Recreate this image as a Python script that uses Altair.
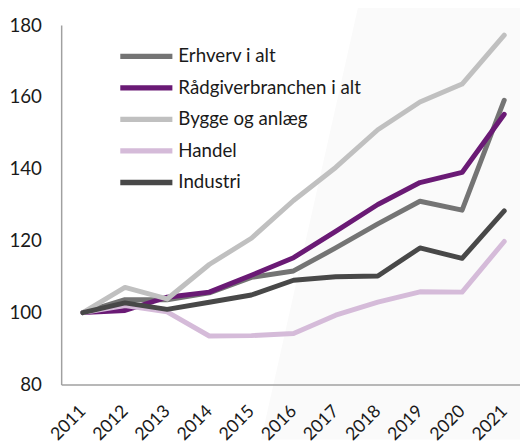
import altair as alt
import pandas as pd

years = list(range(2011, 2022))
series_names = ["Erhverv i alt", "Rådgiverbranchen i alt", "Bygge og anlæg", "Handel", "Industri"]
erhverv = [100, 103.6, 103.6, 105.5, 109.8, 111.6, 118.0, 124.7, 131.0, 128.5, 159.1]
raadgiver = [100, 100.6, 104.3, 105.7, 110.4, 115.3, 122.6, 130.1, 136.2, 139.0, 155.2]
bygge = [100, 107.0, 103.8, 113.4, 120.7, 131.2, 140.4, 150.9, 158.6, 163.6, 177.2]
handel = [100, 102.0, 100.2, 93.5, 93.6, 94.2, 99.3, 102.9, 105.8, 105.7, 119.8]
industri = [100, 102.7, 100.9, 102.9, 104.9, 109.0, 110.0, 110.2, 118.0, 115.1, 128.3]
colors = ["#747474", "#6a1a75", "#c0c0c0", "#d5bbd9", "#484848"]

rows = []
for name, vals in zip(series_names, [erhverv, raadgiver, bygge, handel, industri]):
    for yr, v in zip(years, vals):
        rows.append({"year": yr, "value": v, "series": name, "order": series_names.index(name)})
df = pd.DataFrame(rows)

# decorative shaded background band (slanted left edge)
shade = pd.DataFrame({"y": [186.0, 64.7], "x": [2017.55, 2015.23], "x2": [2021.5, 2021.5]})

xscale = alt.Scale(domain=[2010.486, 2021.374], nice=False, zero=False)
yscale = alt.Scale(domain=[80, 180], nice=False, zero=False)

bg = alt.Chart(shade).mark_area(orient="horizontal", color="#fafafa", clip=False).encode(
    y=alt.Y("y:Q", scale=yscale),
    x=alt.X("x:Q", scale=xscale),
    x2="x2:Q",
)

lines = alt.Chart(df).mark_line(strokeWidth=5, strokeCap="round", strokeJoin="round").encode(
    x=alt.X("year:Q", scale=xscale,
            axis=alt.Axis(values=years, format="d", labelAngle=-45, labelAlign="right",
                          labelBaseline="middle", labelPadding=24, ticks=False, title=None,
                          labelOverlap=False, labelFontSize=18, zindex=1)),
    y=alt.Y("value:Q", scale=yscale,
            axis=alt.Axis(values=[80, 100, 120, 140, 160, 180], ticks=False, labelPadding=20,
                          title=None, zindex=1)),
    color=alt.Color("series:N", scale=alt.Scale(domain=series_names, range=colors),
                    legend=alt.Legend(orient="none", legendX=57, legendY=16, title=None,
                                      symbolType="stroke", symbolSize=2800, symbolStrokeWidth=5.5,
                                      labelFontSize=19, labelFont="Lato", labelColor="#1a1a1a",
                                      rowPadding=0, clipHeight=31.5, labelOffset=3,
                                      labelLimit=400, padding=0)),
    order=alt.Order("order:Q"),
)

chart = (bg + lines).properties(
    width=466, height=365,
    padding={"left": 54, "top": 14, "right": 0, "bottom": 56},
    autosize=alt.AutoSizeParams(type="none"),
).configure_view(stroke=None).configure_axis(
    labelFont="Lato", labelFontSize=19, labelColor="#1a1a1a",
    domainColor="#a0a0a0", domainWidth=1.5, grid=False,
)

chart.save("out.html", embed_options={"renderer": "svg", "actions": False})
